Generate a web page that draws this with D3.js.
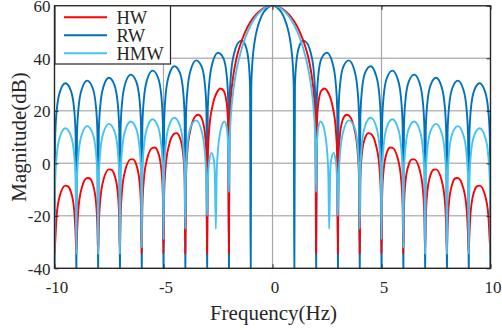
<!DOCTYPE html>
<html>
<head>
<meta charset="utf-8">
<script src="https://cdn.jsdelivr.net/npm/d3@7"></script>
<style>
  html, body { margin: 0; padding: 0; background: #fff; }
  svg { display: block; }
  text { font-family: "Liberation Serif", "Times New Roman", serif; fill: #262626; }
</style>
</head>
<body>
<svg id="chart" width="502" height="330"></svg>
<script>
// ---- data (positive-frequency half; the spectra are symmetric about 0 Hz) ----
const xTicks = [-10, -5, 0, 5, 10];
const yTicks = [-40, -20, 0, 20, 40, 60];
const seriesNames = ["HW", "RW", "HMW"];
const seriesColors = ["#ff0000", "#0072bd", "#45c3f1"];

// RW: rectangular window spectrum [frequency Hz, magnitude dB]
const rwHalf = [
  [0,60],[0.2,59.4],[0.4,57.6],[0.55,55.1],[0.7,51.3],[0.8,47.4],[0.88,42.5],[0.94,36.1],[0.975,28.2],[1,-48],
  [1.03,29.3],[1.1,39.0],[1.25,45.1],[1.4,46.7],[1.5,46.5],[1.75,42.2],[1.9,34.3],[1.97,23.6],[2,-48],
  [2.03,23.4],[2.1,33.4],[2.25,40.0],[2.5,42.1],[2.75,38.3],[2.9,30.6],[2.97,20.1],[3,-48],
  [3.03,19.9],[3.1,30.0],[3.25,36.8],[3.5,39.2],[3.75,35.6],[3.9,28.0],[3.97,17.6],[4,-48],
  [4.03,17.4],[4.1,27.6],[4.25,34.5],[4.5,37.0],[4.75,33.5],[4.9,26.1],[4.97,15.6],[5,-48],
  [5.03,15.5],[5.1,25.7],[5.25,32.6],[5.5,35.3],[5.75,31.9],[5.9,24.4],[5.97,14.0],[6,-48],
  [6.03,13.9],[6.1,24.2],[6.25,31.1],[6.5,33.8],[6.75,30.5],[6.9,23.1],[6.97,12.7],[7,-48],
  [7.03,12.6],[7.1,22.8],[7.25,29.8],[7.5,32.6],[7.75,29.3],[7.9,21.9],[7.97,11.5],[8,-48],
  [8.03,11.4],[8.1,21.7],[8.25,28.7],[8.5,31.5],[8.75,28.2],[8.9,20.9],[8.97,10.5],[9,-48],
  [9.03,10.4],[9.1,20.7],[9.25,27.7],[9.5,30.5],[9.75,27.3],[9.9,19.9],[9.97,9.6],[10,-48]
];

// HW: Hanning window spectrum
const hwHalf = [
  [0,60],[0.25,59.65],[0.5,58.6],[0.75,56.7],[1,54.0],[1.25,50.1],[1.5,44.6],[1.6,41.7],[1.7,38.1],[1.8,33.3],[1.9,26.0],[1.95,19.2],[1.98,10.8],[2,-34.5],
  [2.03,13.5],[2.1,22.8],[2.25,27.8],[2.4,28.5],[2.5,27.7],[2.75,21.9],[2.9,13.2],[2.97,2.2],[3,-34.5],
  [3.03,1.6],[3.1,11.3],[3.25,17.2],[3.4,18.5],[3.5,18.2],[3.75,13.3],[3.9,5.0],[3.97,-5.8],[4,-34.5],
  [4.03,-6.2],[4.1,3.6],[4.25,9.8],[4.4,11.5],[4.5,11.3],[4.75,6.8],[4.9,-1.2],[4.97,-11.9],[5,-34.5],
  [5.03,-12.2],[5.1,-2.3],[5.25,4.2],[5.4,6.0],[5.5,5.9],[5.75,1.7],[5.9,-6.1],[5.97,-16.8],[6,-34.5],
  [6.03,-17.1],[6.1,-7.0],[6.25,-0.5],[6.4,1.5],[6.5,1.5],[6.75,-2.5],[6.9,-10.3],[6.97,-20.9],[7,-34.5],
  [7.03,-21.1],[7.1,-11.0],[7.25,-4.4],[7.4,-2.4],[7.5,-2.3],[7.75,-6.2],[7.9,-13.9],[7.97,-24.4],[8,-34.5],
  [8.03,-24.6],[8.1,-14.5],[8.25,-7.8],[8.4,-5.7],[8.5,-5.6],[8.75,-9.4],[8.9,-17.0],[8.97,-27.5],[9,-34.5],
  [9.03,-27.7],[9.1,-17.6],[9.25,-10.8],[9.4,-8.7],[9.5,-8.5],[9.75,-12.2],[9.9,-19.8],[9.97,-30.3],[10,-34.5]
];

// HMW: Hamming window spectrum
const hmwHalf = [
  [0,60],[0.25,59.57],[0.5,58.25],[0.75,55.97],[1,52.59],[1.25,47.82],[1.5,41.08],[1.6,37.53],[1.7,33.23],[1.8,27.64],[1.9,19.31],[1.95,11.99],[1.98,3.24],[2,-11],
  [2.03,5.3],[2.1,13.56],[2.2,15.94],[2.3,15.04],[2.4,11.79],[2.5,5.09],[2.56,-3.88],[2.6,-25],
  [2.65,-2.88],[2.7,1.68],[2.8,3.96],[2.9,1.03],[2.97,-8.05],[3,-20],
  [3.03,-7.23],[3.1,3.87],[3.25,12.24],[3.5,16.37],[3.75,13.94],[3.9,6.95],[3.97,-3.32],[4,-25],
  [4.03,-3.28],[4.1,7.09],[4.25,14.32],[4.5,17.33],[4.75,14.23],[4.9,6.97],[4.97,-3.4],[5,-29],
  [5.03,-3.44],[5.1,6.85],[5.25,13.94],[5.5,16.76],[5.75,13.55],[5.9,6.24],[5.97,-4.16],[6,-32],
  [6.03,-4.21],[6.1,6.06],[6.25,13.12],[6.5,15.91],[6.75,12.68],[6.9,5.35],[6.97,-5.04],[7,-34.5],
  [7.03,-5.1],[7.1,5.17],[7.25,12.23],[7.5,15.02],[7.75,11.78],[7.9,4.46],[7.97,-5.93],[8,-34.5],
  [8.03,-5.98],[8.1,4.29],[8.25,11.35],[8.5,14.15],[8.75,10.93],[8.9,3.62],[8.97,-6.77],[9,-34.5],
  [9.03,-6.82],[9.1,3.46],[9.25,10.53],[9.5,13.34],[9.75,10.13],[9.9,2.83],[9.97,-7.56],[10,-34.5]
];

// ---- helpers ----
function fullSpectrum(half) {
  const neg = half.filter(d => d[0] > 0).map(d => [-d[0], d[1]]).reverse();
  return neg.concat(half);
}

const W = 502, H = 330;
const plot = { left: 54.5, right: 490.5, top: 5.8, bottom: 268.3 };

const svg = d3.select("#chart");
const x = d3.scaleLinear().domain([-10, 10]).range([plot.left, plot.right]);
const y = d3.scaleLinear().domain([-40, 60]).range([plot.bottom, plot.top]);

// grid
const grid = svg.append("g");
grid.selectAll("line.gy").data(yTicks.slice(1, -1)).enter().append("line")
  .attr("x1", plot.left).attr("x2", plot.right)
  .attr("y1", d => y(d)).attr("y2", d => y(d))
  .attr("stroke", "#b9b9b9").attr("stroke-width", 1.5);
grid.selectAll("line.gx").data(xTicks.slice(1, -1)).enter().append("line")
  .attr("y1", plot.top).attr("y2", plot.bottom)
  .attr("x1", d => x(d)).attr("x2", d => x(d))
  .attr("stroke", "#a6a6a6").attr("stroke-width", 1.2);

// clip
svg.append("defs").append("clipPath").attr("id", "clip")
  .append("rect").attr("x", plot.left).attr("y", plot.top)
  .attr("width", plot.right - plot.left).attr("height", plot.bottom - plot.top);

const line = d3.line().x(d => x(d[0])).y(d => y(d[1])).curve(d3.curveMonotoneX);

const curves = svg.append("g").attr("clip-path", "url(#clip)");
// drawing order: RW, HW, HMW (HMW on top)
const drawOrder = [
  { data: fullSpectrum(rwHalf), color: seriesColors[1] },
  { data: fullSpectrum(hwHalf), color: seriesColors[0] },
  { data: fullSpectrum(hmwHalf), color: seriesColors[2] }
];
drawOrder.forEach(s => {
  curves.append("path").datum(s.data)
    .attr("d", line).attr("fill", "none")
    .attr("stroke", s.color).attr("stroke-width", 1.9)
    .attr("stroke-linejoin", "round");
});

// axes (box with inward ticks)
const axisColor = "#262626";
const xAxisB = d3.axisBottom(x).tickValues(xTicks).tickSizeInner(-4).tickSizeOuter(0).tickFormat(d3.format("d"));
const xAxisT = d3.axisTop(x).tickValues(xTicks).tickSizeInner(-4).tickSizeOuter(0).tickFormat("");
const yAxisL = d3.axisLeft(y).tickValues(yTicks).tickSizeInner(-4).tickSizeOuter(0).tickFormat(d3.format("d"));
const yAxisR = d3.axisRight(y).tickValues(yTicks).tickSizeInner(-4).tickSizeOuter(0).tickFormat("");

function styleAxis(g) {
  g.select(".domain").remove();
  g.selectAll(".tick line").attr("stroke", axisColor).attr("stroke-width", 1);
  g.selectAll(".tick text").attr("fill", axisColor)
    .style("font-family", '"Liberation Serif", "Times New Roman", serif')
    .style("font-size", "17px");
}

const gxb = svg.append("g").attr("transform", `translate(0,${plot.bottom})`).call(xAxisB).call(styleAxis);
gxb.selectAll(".tick text").attr("y", 0).attr("dy", 0)
  .attr("transform", "translate(2,25)").text(d => d < 0 ? "-" + Math.abs(d) : d);
svg.append("g").attr("transform", `translate(0,${plot.top})`).call(xAxisT).call(styleAxis);
const gyl = svg.append("g").attr("transform", `translate(${plot.left},0)`).call(yAxisL).call(styleAxis);
gyl.selectAll(".tick text").attr("x", -4).attr("dy", "0.34em").text(d => d < 0 ? "-" + Math.abs(d) : d);
svg.append("g").attr("transform", `translate(${plot.right},0)`).call(yAxisR).call(styleAxis);

// box
svg.append("rect")
  .attr("x", plot.left).attr("y", plot.top)
  .attr("width", plot.right - plot.left).attr("height", plot.bottom - plot.top)
  .attr("fill", "none").attr("stroke", axisColor).attr("stroke-width", 1.4);

// axis titles
svg.append("text").attr("x", 273.5).attr("y", 319.5).attr("text-anchor", "middle")
  .style("font-size", "21px").text("Frequency(Hz)");
svg.append("text").attr("transform", "translate(26,137) rotate(-90)").attr("text-anchor", "middle")
  .style("font-size", "21px").text("Magnitude(dB)");

// legend
const leg = svg.append("g");
leg.append("rect").attr("x", plot.left + 0.5).attr("y", plot.top)
  .attr("width", 115.5).attr("height", 58.2)
  .attr("fill", "#fff").attr("stroke", axisColor).attr("stroke-width", 1.2);
const legY = [17.3, 35.2, 53.3];
seriesNames.forEach((name, i) => {
  leg.append("line").attr("x1", 64).attr("x2", 107).attr("y1", legY[i]).attr("y2", legY[i])
    .attr("stroke", seriesColors[i]).attr("stroke-width", 1.9);
  leg.append("text").attr("x", 116.5).attr("y", legY[i] + 6.3)
    .style("font-size", "18.5px").text(name);
});
</script>
</body>
</html>
